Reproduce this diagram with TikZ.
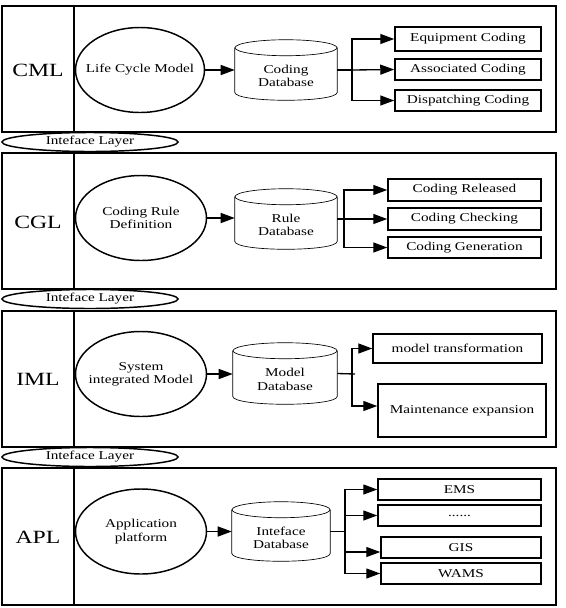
\documentclass[tikz,border=0pt]{standalone}
\usepackage{fontspec}
\setmainfont{Liberation Serif}[FakeStretch=1.27]
\usetikzlibrary{arrows.meta,shapes.geometric,calc}
\def\pxu{0.75pt}
\newcommand\dbcyl[6]{%
  \node[inner sep=0pt, minimum width=#4*\pxu, minimum height=#5*\pxu] (#1) at (#2,#3) {};
  \draw[cylline] ($(#1.north)+(0,8)$) ellipse [x radius=#4/2, y radius=8];
  \draw[cylline] ($(#1.north west)+(0,8)$) -- ($(#1.south west)+(0,-8)$) .. controls +(0,10.67) and +(0,10.67) .. ($(#1.south east)+(0,-8)$) -- ($(#1.north east)+(0,8)$);
  \node[txt] (#1t) at ($(#1.center)+(0,6)$) {#6};
}
\begin{document}
\begin{tikzpicture}[x=0.75pt, y=-0.75pt,
  panel/.style={draw, line width=1.2pt, inner sep=0pt},
  divline/.style={line width=1.2pt},
  lab/.style={font=\fontsize{14}{16}\selectfont},
  txt/.style={font=\fontsize{9}{10}\selectfont, align=center},
  proc/.style={ellipse, draw, line width=1.1pt, minimum width=131*\pxu, minimum height=85*\pxu, inner xsep=-10pt, inner ysep=0pt, txt},
  iface/.style={ellipse, draw, fill=white, line width=1.1pt, minimum width=176*\pxu, minimum height=19*\pxu, inner xsep=-10pt, inner ysep=-2pt, txt},
  box/.style={draw, line width=1.1pt, inner sep=0pt, txt},
  cylline/.style={line width=0.5pt},
  arr/.style={line width=1pt, -{Triangle[length=10.5pt,width=7.5pt]}},
  ln/.style={line width=1pt}]
\useasboundingbox (0,0) rectangle (566,608);

% ---------- Panel 1: CML ----------
\node[panel, minimum width=554*\pxu, minimum height=126*\pxu] (p1) at (279,69) {};
\draw[divline] ($(p1.north west)+(73,0)$) -- ($(p1.south west)+(73,0)$);
\node[lab] (l1) at (38,70) {CML};
\node[proc, minimum width=129*\pxu] (e1) at (140,70) {Life Cycle Model};
\dbcyl{c1}{286}{70}{102}{60}{Coding\\Database}
\node[box, minimum width=146*\pxu, minimum height=24*\pxu] (eq) at (468,39) {Equipment Coding};
\node[box, minimum width=146*\pxu, minimum height=21*\pxu] (as) at (468,69.5) {Associated Coding};
\node[box, minimum width=146*\pxu, minimum height=21*\pxu] (di) at (468,100.5) {Dispatching Coding};
\coordinate (b1) at (352,70);
\draw[arr] (e1) -- (e1 -| c1.west);
\draw[ln] (c1.east) -- (b1);
\draw[arr] (b1) |- (eq.west);
\draw[arr] (b1) -- (as.west);
\draw[arr] (b1) |- (di.west);

\node[iface] (if1) at (90,142) {Inteface Layer};

% ---------- Panel 2: CGL ----------
\node[panel, minimum width=554*\pxu, minimum height=136*\pxu] (p2) at (279,221) {};
\draw[divline] ($(p2.north west)+(73,0)$) -- ($(p2.south west)+(73,0)$);
\node[lab] (l2) at (38,222) {CGL};
\node[proc] (e2) at (141,218) {Coding Rule\\Definition};
\dbcyl{c2}{286}{219}{102}{60}{Rule\\Database}
\node[box, minimum width=153*\pxu, minimum height=22*\pxu] (re) at (464.5,190) {Coding Released};
\node[box, minimum width=153*\pxu, minimum height=22*\pxu] (ch) at (464.5,219) {Coding Checking};
\node[box, minimum width=153*\pxu, minimum height=21*\pxu] (ge) at (464.5,247.5) {Coding Generation};
\coordinate (b2) at (344,219);
\draw[arr] (e2) -- (e2 -| c2.west);
\draw[ln] (c2.east) -- (b2);
\draw[arr] (b2) |- (re.west);
\draw[arr] (b2) -- (ch.west);
\draw[arr] (b2) |- (ge.west);

\node[iface] (if2) at (90,299) {Inteface Layer};

% ---------- Panel 3: IML ----------
\node[panel, minimum width=554*\pxu, minimum height=136*\pxu] (p3) at (279,379) {};
\draw[divline] ($(p3.north west)+(73,0)$) -- ($(p3.south west)+(73,0)$);
\node[lab] (l3) at (38,379) {IML};
\node[proc] (e3) at (141,374) {System\\integrated Model};
\dbcyl{c3}{285}{373.5}{104}{61}{Model\\Database}
\node[box, minimum width=169*\pxu, minimum height=29*\pxu] (mt) at (457.5,348.5) {model transformation};
\node[box, minimum width=168*\pxu, minimum height=53*\pxu] (me) at (462,410.5) {Maintenance expansion};
\coordinate (b3) at (352,374);
\coordinate (b3e) at (355,374);
\coordinate (b3b) at (352,406);
\draw[arr] (e3) -- (e3 -| c3.west);
\draw[ln] (c3.east) -- (b3e);
\draw[arr] (b3) |- (mt.west);
\draw[arr] (b3) -- (b3b) -- (b3b -| me.west);

\node[iface] (if3) at (90,457) {Inteface Layer};

% ---------- Panel 4: APL ----------
\node[panel, minimum width=554*\pxu, minimum height=137*\pxu] (p4) at (279,536.5) {};
\draw[divline] ($(p4.north west)+(73,0)$) -- ($(p4.south west)+(73,0)$);
\node[lab] (l4) at (38,537) {APL};
\node[proc] (e4) at (141,531.5) {Application\\platform};
\dbcyl{c4}{281}{531.5}{98}{59}{Inteface\\Database}
\node[box, minimum width=163*\pxu, minimum height=21*\pxu] (ems) at (459.5,489.5) {EMS};
\node[box, minimum width=163*\pxu, minimum height=21*\pxu] (dots) at (459.5,515.5) {......};
\node[box, minimum width=160*\pxu, minimum height=21*\pxu] (gis) at (461,547.5) {GIS};
\node[box, minimum width=160*\pxu, minimum height=21*\pxu] (wams) at (461,573.5) {WAMS};
\coordinate (b4) at (345,531.5);
\coordinate (g4) at (345,552);
\draw[arr] (e4) -- (e4 -| c4.west);
\draw[ln] (c4.east) -- (b4);
\draw[arr] (b4) |- (ems.west);
\draw[arr] (b4) |- (dots.west);
\draw[arr] (b4) -- (g4) -- (g4 -| gis.west);
\draw[arr] (b4) |- (wams.west);
\end{tikzpicture}
\end{document}
